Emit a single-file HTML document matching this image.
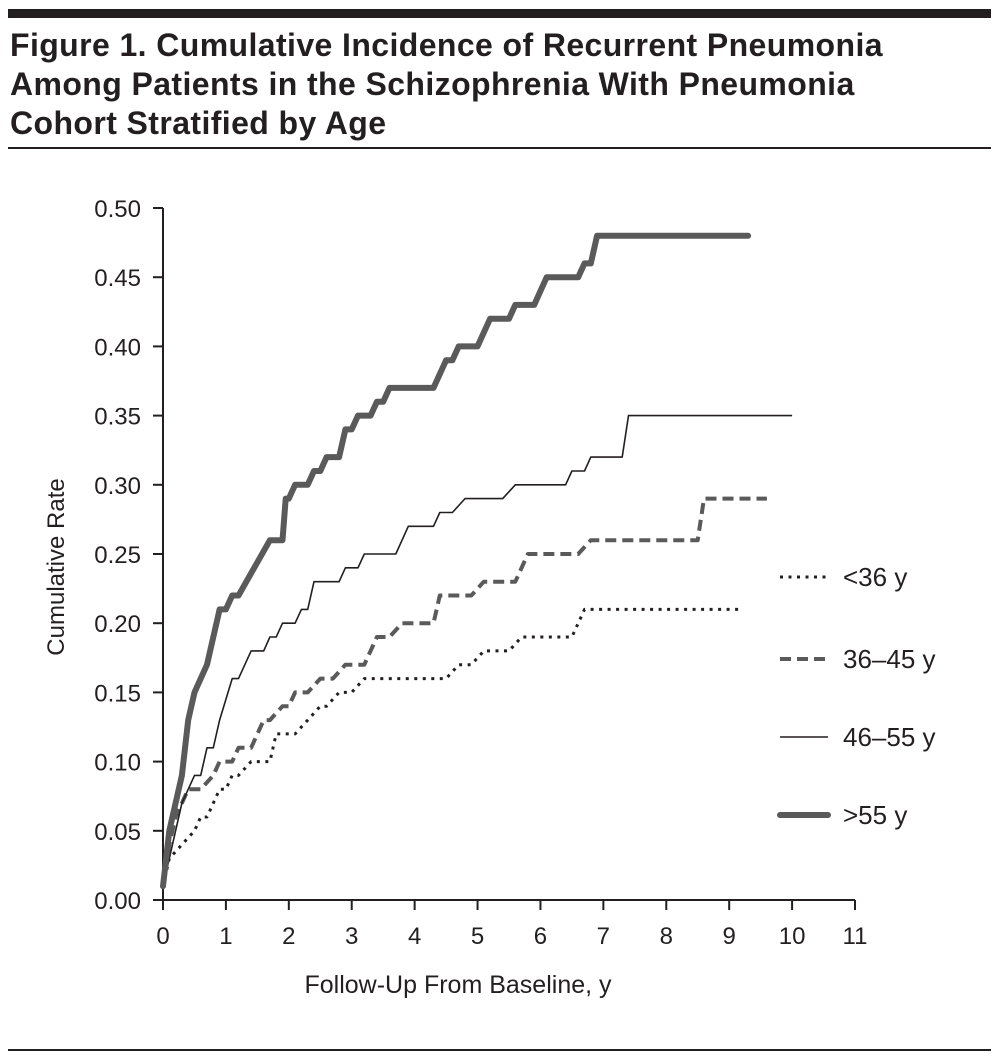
<!DOCTYPE html>
<html><head><meta charset="utf-8"><style>
body{margin:0;background:#fff;width:999px;height:1062px;overflow:hidden;font-family:"Liberation Sans",sans-serif}
.title{position:absolute;left:10px;top:26px;font-size:32px;font-weight:bold;line-height:39px;color:#231f20;letter-spacing:0.4px}
</style></head><body>
<div style="position:absolute;left:8px;top:9px;width:983px;height:9px;background:#231f20"></div>
<div class="title">Figure 1. Cumulative Incidence of Recurrent Pneumonia<br>Among Patients in the Schizophrenia With Pneumonia<br>Cohort Stratified by Age</div>
<div style="position:absolute;left:8px;top:147px;width:983px;height:2px;background:#231f20"></div>
<div style="position:absolute;left:8px;top:1049px;width:983px;height:2px;background:#231f20"></div>
<svg id="chart" width="999" height="1062" style="position:absolute;left:0;top:0" font-family="Liberation Sans, sans-serif"></svg>
<script>
const xTicks=[0,1,2,3,4,5,6,7,8,9,10,11];
const yTicks=[0,0.05,0.10,0.15,0.20,0.25,0.30,0.35,0.40,0.45,0.50];
const seriesNames=["<36 y","36–45 y","46–55 y",">55 y"];
const s1X=[0,0.1,0.3,0.5,0.6,0.7,0.9,1.0,1.1,1.2,1.4,1.7,1.8,2.1,2.3,2.5,2.6,2.8,3.0,3.2,4.5,4.7,4.9,5.1,5.5,5.7,6.5,6.7,9.2];
const s1Y=[0.01,0.03,0.04,0.05,0.06,0.06,0.08,0.08,0.09,0.09,0.10,0.10,0.12,0.12,0.13,0.14,0.14,0.15,0.15,0.16,0.16,0.17,0.17,0.18,0.18,0.19,0.19,0.21,0.21];
const s2X=[0,0.1,0.2,0.4,0.6,0.8,0.9,1.1,1.2,1.4,1.6,1.7,1.9,2.0,2.1,2.3,2.5,2.7,2.9,3.2,3.4,3.6,3.8,4.3,4.4,4.9,5.1,5.6,5.8,6.6,6.8,8.5,8.6,9.6];
const s2Y=[0.01,0.04,0.06,0.08,0.08,0.09,0.10,0.10,0.11,0.11,0.13,0.13,0.14,0.14,0.15,0.15,0.16,0.16,0.17,0.17,0.19,0.19,0.20,0.20,0.22,0.22,0.23,0.23,0.25,0.25,0.26,0.26,0.29,0.29];
const s3X=[0,0.2,0.3,0.4,0.5,0.6,0.7,0.8,0.9,1.1,1.2,1.4,1.6,1.7,1.8,1.9,2.1,2.2,2.3,2.4,2.8,2.9,3.1,3.2,3.7,3.9,4.3,4.4,4.6,4.8,5.4,5.6,6.4,6.5,6.7,6.8,7.3,7.4,10];
const s3Y=[0.01,0.05,0.07,0.08,0.09,0.09,0.11,0.11,0.13,0.16,0.16,0.18,0.18,0.19,0.19,0.20,0.20,0.21,0.21,0.23,0.23,0.24,0.24,0.25,0.25,0.27,0.27,0.28,0.28,0.29,0.29,0.30,0.30,0.31,0.31,0.32,0.32,0.35,0.35];
const s4X=[0,0.1,0.2,0.3,0.4,0.5,0.7,0.9,1.0,1.1,1.2,1.7,1.9,1.95,2.0,2.1,2.3,2.4,2.5,2.6,2.8,2.9,3.0,3.1,3.3,3.4,3.5,3.6,4.3,4.5,4.6,4.7,5.0,5.2,5.5,5.6,5.9,6.1,6.6,6.7,6.8,6.9,9.3];
const s4Y=[0.01,0.05,0.07,0.09,0.13,0.15,0.17,0.21,0.21,0.22,0.22,0.26,0.26,0.29,0.29,0.30,0.30,0.31,0.31,0.32,0.32,0.34,0.34,0.35,0.35,0.36,0.36,0.37,0.37,0.39,0.39,0.40,0.40,0.42,0.42,0.43,0.43,0.45,0.45,0.46,0.46,0.48,0.48];
const X0=163,X1=855,Y0=900,Y1=208;
const xs=v=>X0+v/11*(X1-X0);
const ys=v=>Y0-v/0.5*(Y0-Y1);
const svg=document.getElementById('chart');
const NS='http://www.w3.org/2000/svg';
function mk(t,a){const e=document.createElementNS(NS,t);for(const k in a)e.setAttribute(k,a[k]);svg.appendChild(e);return e;}
let ax=mk('path',{d:`M${X0},${Y1}V${Y0}H${X1}`,fill:'none',stroke:'#231f20','stroke-width':2});


xTicks.forEach(t=>{
 const l=mk('line',{x1:xs(t),x2:xs(t),y1:Y0,y2:Y0+10,stroke:'#231f20','stroke-width':2});
 
 
 const tx=mk('text',{x:xs(t),y:Y0+44,'font-size':24,'text-anchor':'middle',fill:'#231f20'});tx.textContent=t;
 
 
});
yTicks.forEach(t=>{
 const l=mk('line',{x1:X0-10,x2:X0,y1:ys(t),y2:ys(t),stroke:'#231f20','stroke-width':2});
 
 
 const tx=mk('text',{x:X0-22,y:ys(t)+9,'font-size':24,'text-anchor':'end',fill:'#231f20'});tx.textContent=t.toFixed(2);
 
 
});
let xt=mk('text',{x:458,y:993,'font-size':25,'text-anchor':'middle',fill:'#231f20'});xt.textContent='Follow-Up From Baseline, y';


let yt=mk('text',{x:0,y:0,'font-size':24,'text-anchor':'middle',fill:'#231f20',transform:'translate(64,567) rotate(-90)'});yt.textContent='Cumulative Rate';


const styles=[
 {stroke:'#231f20',w:3,dash:'3,5.5',name:'line-under-36'},
 {stroke:'#5a5a5a',w:4,dash:'11,6',name:'line-36-45'},
 {stroke:'#231f20',w:1.6,dash:'',name:'line-46-55'},
 {stroke:'#5a5a5a',w:6,dash:'',name:'line-over-55'}];
const data=[[s1X,s1Y],[s2X,s2Y],[s3X,s3Y],[s4X,s4Y]];
data.forEach((d,i)=>{
 const st=styles[i];
 const pts=d[0].map((x,j)=>xs(x).toFixed(1)+','+ys(d[1][j]).toFixed(1)).join(' ');
 const p=mk('polyline',{points:pts,fill:'none',stroke:st.stroke,'stroke-width':st.w,'stroke-dasharray':st.dash,'stroke-linejoin':'round','stroke-linecap':i==3?'round':'butt'});
 
 
 const ly=[577,659,737,815][i];
 const ll=mk('line',{x1:780,x2:828,y1:ly,y2:ly,stroke:st.stroke,'stroke-width':st.w,'stroke-dasharray':st.dash,'stroke-linecap':i==3?'round':'butt'});
 
 
 const lt=mk('text',{x:843,y:ly+9,'font-size':26,fill:'#231f20'});lt.textContent=seriesNames[i];
 
 
});
</script>
</body></html>
